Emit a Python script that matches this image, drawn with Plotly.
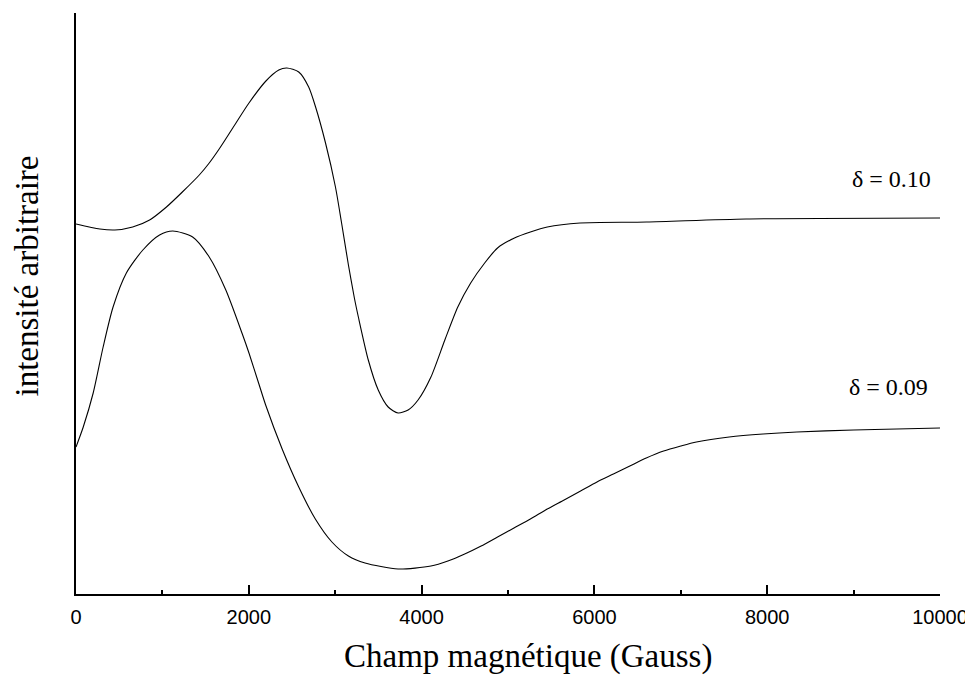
import plotly.graph_objects as go

# Magnetic field (Gauss) and intensity (arbitrary units)
field_d010 = [0, 276, 450, 656, 852, 1047, 1231, 1427, 1542, 1657, 1807, 2002, 2198,
              2347, 2440, 2578, 2693, 2773, 2888, 3003, 3072, 3153, 3222, 3268, 3383,
              3498, 3613, 3728, 3844, 3959, 4108, 4269, 4419, 4568, 4730, 4879, 5075,
              5259, 5455, 5834, 6605, 7756, 10000]
intens_d010 = [370, 365, 364, 367, 374, 387, 402, 419, 431, 445, 465, 491, 513,
               524, 526, 522, 507, 487, 451, 407, 372, 329, 296, 277, 234,
               204, 187, 181, 184, 194, 217, 254, 287, 311, 331, 346, 356,
               362, 367, 371, 372, 375, 376]

field_d009 = [0, 84, 199, 314, 429, 583, 774, 967, 1120, 1350, 1542, 1734, 1925, 2002,
              2117, 2195, 2386, 2578, 2770, 2962, 3153, 3345, 3728, 4108, 4304, 4499,
              4689, 4879, 5069, 5259, 5455, 5650, 5840, 6030, 6220, 6410, 6600, 6801,
              7000, 7181, 7560, 7952, 8343, 9000, 9500, 10000]
intens_d009 = [147, 167, 201, 247, 287, 321, 344, 359, 363, 357, 337, 304, 260, 241,
               210, 189, 145, 107, 75, 52, 38, 31, 25, 28, 33, 40,
               48, 57, 66, 75, 85, 94, 103, 112, 120, 128, 136, 143,
               148, 152, 157, 160, 162, 164, 165, 166]

labels = ["δ = 0.10", "δ = 0.09"]
label_pos = [(9436, 415), (9402, 207)]

x_ticks = [0, 2000, 4000, 6000, 8000, 10000]

fig = go.Figure()
for xs, ys in [(field_d010, intens_d010), (field_d009, intens_d009)]:
    fig.add_trace(go.Scatter(x=xs, y=ys, mode="lines",
                             line=dict(color="black", width=1.1, shape="spline", smoothing=0.7),
                             showlegend=False, hoverinfo="skip"))

for txt, (lx, ly) in zip(labels, label_pos):
    fig.add_annotation(x=lx, y=ly, xref="x", yref="y", text=txt, showarrow=False,
                       font=dict(family="Liberation Serif", size=24, color="black"),
                       xanchor="center", yanchor="middle")

fig.add_annotation(x=0.523, y=-0.1084, xref="paper", yref="paper",
                   text="Champ magnétique (Gauss)", showarrow=False,
                   font=dict(family="Liberation Serif", size=33, color="black"),
                   xanchor="center", yanchor="middle")
fig.add_annotation(x=-0.0564, y=0.547, xref="paper", yref="paper",
                   text="intensité arbitraire", showarrow=False, textangle=-90,
                   font=dict(family="Liberation Serif", size=33, color="black"),
                   xanchor="center", yanchor="middle")

fig.update_xaxes(range=[0, 10000], tickvals=x_ticks, ticktext=[str(v) for v in x_ticks],
                 ticks="inside", ticklen=9, tickwidth=1.5, tickcolor="black",
                 ticklabelstandoff=4,
                 minor=dict(ticks="inside", ticklen=4, tickwidth=1.5, tickcolor="black", dtick=1000),
                 showline=True, linecolor="black", linewidth=2, showgrid=False, zeroline=False,
                 tickfont=dict(family="Liberation Sans", size=20, color="black"))
fig.update_yaxes(range=[0, 581], showline=True, linecolor="black", linewidth=2,
                 showticklabels=False, ticks="", showgrid=False, zeroline=False)

# the page body adds an 8 px margin; keep the page from scrolling
fig.update_layout(width=965, height=668, plot_bgcolor="white", paper_bgcolor="white",
                  margin=dict(l=68, r=28, t=5, b=82))

fig.write_html("out.html")
